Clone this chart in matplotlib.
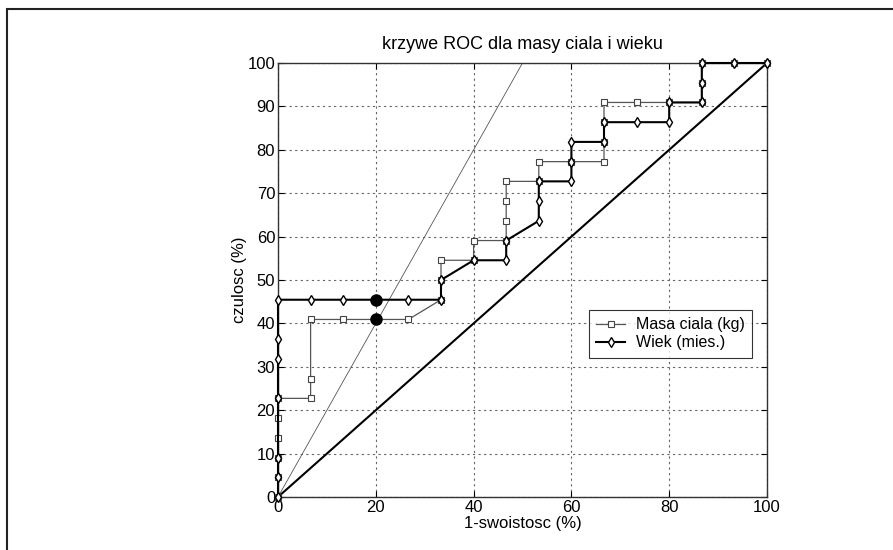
import matplotlib
matplotlib.use("Agg")
import matplotlib.pyplot as plt
from matplotlib.patches import Rectangle

plt.rcParams['font.family'] = ['Liberation Sans', 'DejaVu Sans']

# data (in %): x = 1-specificity, y = sensitivity
s = 100 / 15.0
t = 100 / 22.0
masa_x = [0, 0, 0, 0, 0, 0, 1*s, 1*s, 1*s, 2*s, 3*s, 4*s, 5*s, 5*s, 5*s, 6*s, 6*s, 7*s, 7*s, 7*s, 7*s,
          8*s, 8*s, 9*s, 10*s, 10*s, 10*s, 10*s, 11*s, 12*s, 13*s, 13*s, 13*s, 14*s, 15*s]
masa_y = [0, 1*t, 2*t, 3*t, 4*t, 5*t, 5*t, 6*t, 9*t, 9*t, 9*t, 9*t, 10*t, 11*t, 12*t, 12*t, 13*t, 13*t, 14*t, 15*t, 16*t,
          16*t, 17*t, 17*t, 17*t, 18*t, 19*t, 20*t, 20*t, 20*t, 20*t, 21*t, 22*t, 22*t, 22*t]
wiek_x = [0, 0, 0, 0, 0, 0, 0, 1*s, 2*s, 3*s, 4*s, 5*s, 5*s, 6*s, 7*s, 7*s, 8*s, 8*s, 8*s, 9*s, 9*s, 9*s,
          10*s, 10*s, 11*s, 12*s, 12*s, 13*s, 13*s, 13*s, 14*s, 15*s]
wiek_y = [0, 1*t, 2*t, 5*t, 7*t, 8*t, 10*t, 10*t, 10*t, 10*t, 10*t, 10*t, 11*t, 12*t, 12*t, 13*t, 14*t, 15*t, 16*t, 16*t, 17*t, 18*t,
          18*t, 19*t, 19*t, 19*t, 20*t, 20*t, 21*t, 22*t, 22*t, 22*t]
opt_x = [20, 20]
opt_y = [10*t, 9*t]
ref_x = [0, 100]
ref_y = [0, 100]
steep_x = [0, 50]
steep_y = [0, 100]

fig = plt.figure(figsize=(8.93, 5.5), dpi=100)
fig.patches.append(Rectangle((7/893, -0.1), 1.2, 1 - 9/550 + 0.1, transform=fig.transFigure,
                             fill=False, edgecolor='#222222', linewidth=1.5))
ax = fig.add_axes([278/893, 1 - 497/550, (767 - 278)/893, (497 - 63)/550])

ax.plot(steep_x, steep_y, color='#555555', linewidth=0.6, zorder=2)
ax.plot(ref_x, ref_y, color='black', linewidth=1.5, zorder=2)
ax.plot(masa_x, masa_y, color='#555555', linewidth=0.9, marker='s', markersize=5,
        markerfacecolor='white', markeredgecolor='#444444', markeredgewidth=0.8,
        label='Masa ciala (kg)', zorder=3, clip_on=False)
ax.plot(wiek_x, wiek_y, color='black', linewidth=1.5, marker='d', markersize=5,
        markerfacecolor='white', markeredgecolor='black', markeredgewidth=1.0,
        label='Wiek (mies.)', zorder=4, clip_on=False)
ax.plot(opt_x, opt_y, linestyle='none', marker='o', markersize=8, color='black', zorder=5)

ax.set_xlim(0, 100)
ax.set_ylim(0, 100)
ax.set_xticks([0, 20, 40, 60, 80, 100])
ax.set_yticks(list(range(0, 101, 10)))
ax.grid(True, linestyle=(0, (2, 3)), color='#666666', linewidth=0.8)
ax.tick_params(direction='in', labelsize=12, length=4, pad=2, top=True, right=True)
for sp in ax.spines.values():
    sp.set_color('#333333')
    sp.set_linewidth(1.0)

ax.set_title('krzywe ROC dla masy ciala i wieku', fontsize=13, pad=10)
ax.set_xlabel('1-swoistosc (%)', fontsize=12, labelpad=1)
ax.set_ylabel('czulosc (%)', fontsize=12, labelpad=0)

leg = ax.legend(loc='upper left', bbox_to_anchor=((589 - 278)/489, (497 - 310)/434),
                fontsize=11.5, frameon=True, fancybox=False, edgecolor='black',
                borderpad=0.45, labelspacing=0.2, handlelength=1.8, handletextpad=0.7,
                borderaxespad=0)
leg.get_frame().set_linewidth(0.8)

fig.savefig('out.png', dpi=100)
